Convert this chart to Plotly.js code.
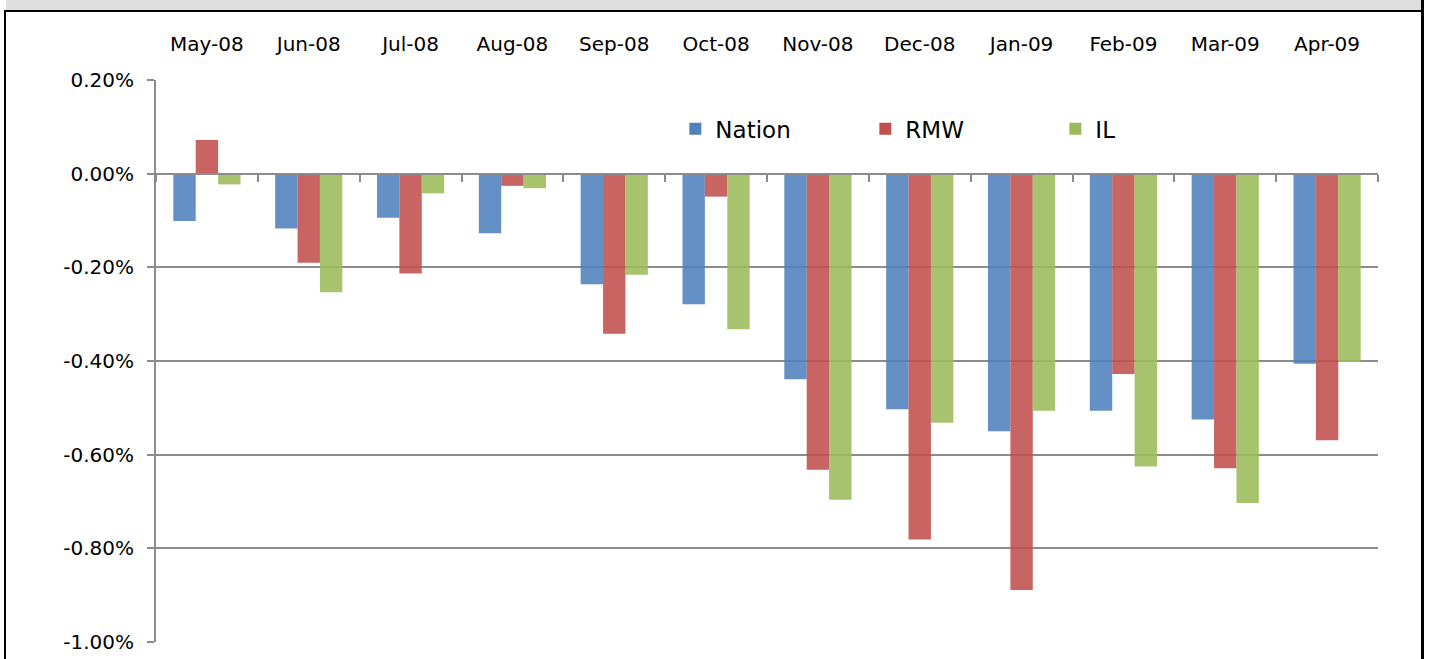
<!DOCTYPE html>
<html>
<head>
<meta charset="utf-8">
<script src="https://cdn.plot.ly/plotly-3.0.1.min.js"></script>
<style>
  html, body { margin: 0; padding: 0; background: #ffffff; }
  #wrap { position: relative; width: 1432px; height: 659px; overflow: hidden; }
  #chart { position: absolute; left: 0; top: 0; width: 1432px; height: 659px; }
  .deco { position: absolute; pointer-events: none; }
</style>
</head>
<body>
<div id="wrap">
  <div id="chart"></div>
  <div class="deco" style="left:6px; top:0; width:1415px; height:10px; background:#dedede;"></div>
  <div class="deco" style="left:4px; top:10px; width:1420px; height:2px; background:#000;"></div>
  <div class="deco" style="left:4px; top:10px; width:2px; height:649px; background:#000;"></div>
  <div class="deco" style="left:1421px; top:0; width:3px; height:659px; background:#000;"></div>
</div>
<script>
const categories = ["May-08","Jun-08","Jul-08","Aug-08","Sep-08","Oct-08","Nov-08","Dec-08","Jan-09","Feb-09","Mar-09","Apr-09"];
const nation = [-0.101,-0.117,-0.094,-0.127,-0.236,-0.279,-0.439,-0.503,-0.550,-0.506,-0.525,-0.406];
const rmw    = [ 0.072,-0.190,-0.213,-0.026,-0.342,-0.049,-0.632,-0.781,-0.889,-0.428,-0.629,-0.569];
const il     = [-0.023,-0.253,-0.042,-0.031,-0.216,-0.332,-0.696,-0.532,-0.506,-0.625,-0.703,-0.402];
const yTickVals = [-1.0,-0.8,-0.6,-0.4,-0.2,0.0,0.2];
const yTickText = ["-1.00%","-0.80%","-0.60%","-0.40%","-0.20%","0.00%","0.20%"];

const FONT = "DejaVu Sans";
const GRID = "#8c8c8c";

function bar(name, vals, color) {
  return {
    type: "bar", name: name, x: categories, y: vals,
    marker: { color: color, opacity: 0.88, line: { width: 0 } },
    hoverinfo: "skip"
  };
}

const data = [
  bar("Nation", nation, "#4F81BD"),
  bar("RMW", rmw, "#C0504D"),
  bar("IL", il, "#9BBB59")
];

const yMin = -1.0, yMax = 0.2;
const boundaries = categories.map((c, i) => i - 0.5).concat([categories.length - 0.5]);

const layout = {
  width: 1432, height: 659,
  margin: { l: 156, r: 54, t: 80, b: 17, pad: 0 },
  paper_bgcolor: "rgba(0,0,0,0)",
  plot_bgcolor: "#ffffff",
  barmode: "group",
  bargap: 0.34,
  bargroupgap: 0,
  showlegend: true,
  legend: {
    orientation: "h",
    x: 0.425, y: 0.913, xanchor: "left", yanchor: "middle",
    font: { family: FONT, size: 23, color: "#000" },
    bgcolor: "rgba(0,0,0,0)",
    entrywidth: 145, entrywidthmode: "pixels",
    itemwidth: 30,
    traceorder: "normal"
  },
  xaxis: {
    type: "category",
    side: "top",
    range: [-0.5, categories.length - 0.5],
    showgrid: false, showline: false, zeroline: false,
    ticks: "outside", ticklen: 20, tickcolor: "rgba(0,0,0,0)",
    tickfont: { family: FONT, size: 20, color: "#000" },
    fixedrange: true
  },
  xaxis2: {
    overlaying: "x",
    anchor: "free",
    position: (0 - yMin) / (yMax - yMin),
    side: "bottom",
    range: [-0.5, categories.length - 0.5],
    showgrid: false, zeroline: false,
    showline: true, linecolor: GRID, linewidth: 2,
    ticks: "outside", ticklen: 7, tickwidth: 2, tickcolor: GRID,
    tickmode: "array", tickvals: boundaries,
    showticklabels: false,
    fixedrange: true
  },
  yaxis: {
    range: [yMin, yMax],
    tickmode: "array", tickvals: yTickVals, ticktext: yTickText,
    showgrid: true, gridcolor: GRID, gridwidth: 2,
    zeroline: false,
    showline: true, linecolor: GRID, linewidth: 2,
    ticks: "outside", ticklen: 7, tickwidth: 2, tickcolor: GRID,
    ticklabelstandoff: 9,
    tickfont: { family: FONT, size: 20, color: "#000" },
    fixedrange: true
  }
};

// empty trace to activate the zero-line category axis (draws no mark)
data.push({ type: "scatter", x: [], y: [], xaxis: "x2", yaxis: "y", showlegend: false, hoverinfo: "skip" });

Plotly.newPlot("chart", data, layout, { staticPlot: true, displayModeBar: false });
</script>
</body>
</html>
